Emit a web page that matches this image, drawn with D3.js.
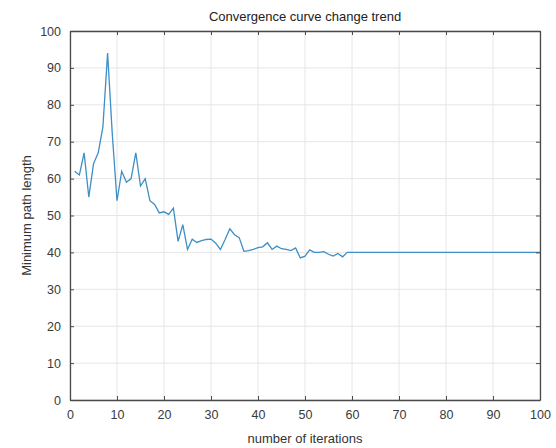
<!DOCTYPE html>
<html><head><meta charset="utf-8">
<script src="https://cdn.jsdelivr.net/npm/d3@7"></script>
<style>
html,body{margin:0;padding:0;background:#fff;}
text{font-family:"Liberation Sans",Arial,sans-serif;}
</style></head>
<body><svg id="c" width="556" height="448"></svg>
<script>
const iterations = d3.range(1, 101);
const pathLength = [
62,61,67,55,64,67,74,94,72,54,
62,59,60,67,58,60,54,53,50.7,51,
50.3,52,43,47.5,40.8,43.6,42.7,43.2,43.5,43.6,
42.5,40.8,43.5,46.4,44.8,44,40.3,40.5,40.8,41.3,
41.5,42.6,40.8,41.7,41,40.8,40.5,41.2,38.5,39,
40.7,40,40,40.2,39.5,39,39.7,38.8,40,40,
40,40,40,40,40,40,40,40,40,40,
40,40,40,40,40,40,40,40,40,40,
40,40,40,40,40,40,40,40,40,40,
40,40,40,40,40,40,40,40,40,40];
const xTicks = d3.range(0, 101, 10);
const yTicks = d3.range(0, 101, 10);
const titleText = "Convergence curve change trend";
const xLabel = "number of iterations";
const yLabel = "Minimum path length";

const m = {l:70, r:540, t:31, b:400};
const svg = d3.select("#c");
const x = d3.scaleLinear().domain([0,100]).range([m.l, m.r]);
const y = d3.scaleLinear().domain([0,100]).range([m.b, m.t]);

// grid
const g = svg.append("g");
g.selectAll(".vx").data(xTicks).join("line")
 .attr("x1", d=>x(d)).attr("x2", d=>x(d)).attr("y1", m.t).attr("y2", m.b)
 .attr("stroke", "#e6e6e6").attr("stroke-width", 1);
g.selectAll(".hy").data(yTicks).join("line")
 .attr("y1", d=>y(d)).attr("y2", d=>y(d)).attr("x1", m.l).attr("x2", m.r)
 .attr("stroke", "#e6e6e6").attr("stroke-width", 1);

// line
const line = d3.line().x((d,i)=>x(iterations[i])).y(d=>y(d));
svg.append("path").datum(pathLength).attr("d", line)
 .attr("fill","none").attr("stroke","#3d8fc4").attr("stroke-width",1.3);

// axes
const axCol = "#4a4a4a";
const fmt = d3.format("d");
const bx = svg.append("g").attr("transform",`translate(0,${m.b})`)
 .call(d3.axisBottom(x).tickValues(xTicks).tickFormat(fmt).tickSizeInner(-4).tickSizeOuter(0).tickPadding(10));
const tx = svg.append("g").attr("transform",`translate(0,${m.t})`)
 .call(d3.axisTop(x).tickValues(xTicks).tickFormat("").tickSizeInner(-4).tickSizeOuter(0));
const ly = svg.append("g").attr("transform",`translate(${m.l},0)`)
 .call(d3.axisLeft(y).tickValues(yTicks).tickFormat(fmt).tickSizeInner(-4).tickSizeOuter(0).tickPadding(9));
const ry = svg.append("g").attr("transform",`translate(${m.r},0)`)
 .call(d3.axisRight(y).tickValues(yTicks).tickFormat("").tickSizeInner(-4).tickSizeOuter(0));
[bx,tx,ly,ry].forEach(a=>{
  a.selectAll("path").attr("stroke",axCol).attr("stroke-width",1.3);
  a.selectAll("line").attr("stroke",axCol);
  a.selectAll("text").attr("fill","#3a3a3a").attr("font-size",12.5).attr("font-family","Liberation Sans, Arial, sans-serif");
});

svg.append("text").attr("x",(m.l+m.r)/2).attr("y",21).attr("text-anchor","middle")
 .attr("font-size",13).attr("fill","#222").text(titleText);
svg.append("text").attr("x",(m.l+m.r)/2).attr("y",443).attr("text-anchor","middle")
 .attr("font-size",13).attr("fill","#333").text(xLabel);
svg.append("text").attr("transform",`translate(31,${(m.t+m.b)/2}) rotate(-90)`).attr("text-anchor","middle")
 .attr("font-size",13).attr("fill","#333").text(yLabel);
</script></body></html>
